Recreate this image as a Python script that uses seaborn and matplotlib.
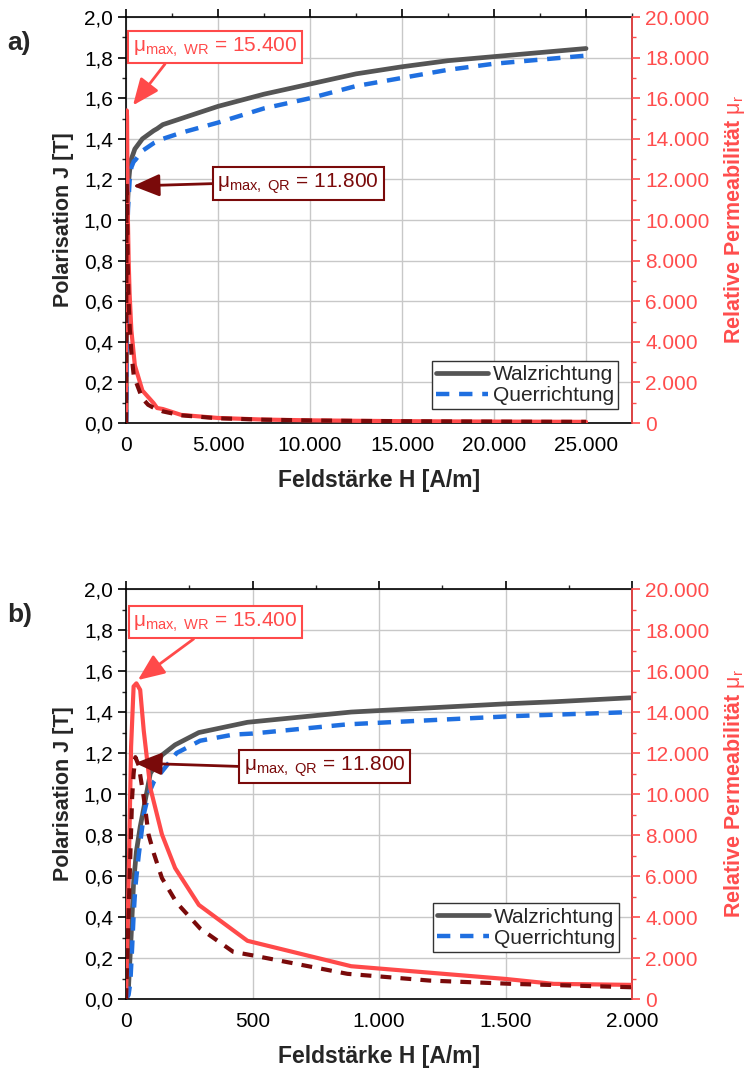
import numpy as np
import pandas as pd
import matplotlib
matplotlib.use("Agg")
import matplotlib.pyplot as plt
from matplotlib.ticker import MultipleLocator, FuncFormatter
import seaborn as sns

# ---------------- data ----------------
H_wr = [0, 10, 20, 30, 41, 56, 70, 96, 142, 194, 288, 480, 890, 1500, 1690, 2000,
        3000, 5000, 7500, 10000, 12500, 15000, 17500, 20000, 22500, 25000]
J_wr = [0, 0.06, 0.30, 0.57, 0.72, 0.84, 0.93, 1.10, 1.19, 1.24, 1.30, 1.35, 1.40, 1.44, 1.45, 1.47,
        1.50, 1.56, 1.62, 1.67, 1.72, 1.755, 1.785, 1.805, 1.825, 1.845]
mu_wr = [0, 5700, 12300, 15250, 15400, 15080, 13100, 10300, 8030, 6390, 4590, 2840, 1600, 980, 740, 690,
         400, 250, 170, 133, 110, 93, 81, 72, 65, 59]

H_qr = [0, 10, 17, 24, 30, 37, 50, 70, 89, 110, 142, 200, 293, 424, 500, 875, 1200, 1526, 2000,
        3000, 5000, 7500, 10000, 12500, 15000, 17500, 20000, 22500, 25000]
J_qr = [0, 0.02, 0.08, 0.25, 0.41, 0.55, 0.70, 0.90, 1.00, 1.06, 1.11, 1.20, 1.26, 1.29, 1.295, 1.34, 1.36, 1.38, 1.40,
        1.43, 1.48, 1.55, 1.60, 1.66, 1.70, 1.74, 1.77, 1.79, 1.81]
mu_qr = [0, 4100, 7000, 9800, 11000, 11800, 11400, 9840, 8030, 7100, 5900, 4700, 3440, 2300, 2130, 1230, 900, 740, 574,
         380, 235, 165, 127, 106, 90, 79, 70, 63, 58]

series_labels = ["Walzrichtung", "Querrichtung"]
panel_labels = ["a)", "b)"]
x_limits = [27500, 2000]
x_major = [5000, 500]
x_minor = [2500, 250]
mu_max_wr_text = "15.400"
mu_max_qr_text = "11.800"

# ---------------- style ----------------
sns.set_style("white")
plt.rcParams["font.family"] = ["Liberation Sans", "DejaVu Sans"]
plt.rcParams["mathtext.fontset"] = "custom"
plt.rcParams["mathtext.rm"] = "Liberation Sans"
plt.rcParams["mathtext.it"] = "Liberation Sans:italic"
plt.rcParams["mathtext.bf"] = "Liberation Sans:bold"

C_WR = "#555555"
C_QR = "#1f6fe0"
C_MU_WR = "#ff4a4a"
C_MU_QR = "#7a0a0a"
C_RED_AX = "#ff4d4d"

FS_TICK = 15
FS_LAB = 15.5
FS_XLAB = 16.5

df_wr = pd.DataFrame({"H": H_wr, "J": J_wr, "mu": mu_wr})
df_qr = pd.DataFrame({"H": H_qr, "J": J_qr, "mu": mu_qr})

fig = plt.figure(figsize=(7.47, 10.71), dpi=100)
ax_pos = [[0.1687, 0.6050, 0.6774, 0.3791],
          [0.1687, 0.0672, 0.6774, 0.3828]]

# annotation placement per panel: (text center frac, arrow tip data, relpos)
ann_wr = [((0.176, 0.926), (380, 15650), (0.22, 0.0)),
          ((0.177, 0.9195), (47, 15560), (0.41, 0.0))]
ann_qr = [((0.34, 0.59), (380, 11675), (0.0, 0.5)),
          ((0.392, 0.567), (36, 11510), (0.0, 0.5))]
legend_anchor = [(0.972, 0.034), (0.974, 0.115)]

thou = FuncFormatter(lambda v, p: f"{int(round(v)):,}".replace(",", "."))
comma = FuncFormatter(lambda v, p: f"{v:.1f}".replace(".", ","))

for i in range(2):
    ax = fig.add_axes(ax_pos[i])
    sns.lineplot(data=df_wr, x="H", y="J", ax=ax, color=C_WR, lw=3.4,
                 sort=False, estimator=None, label=series_labels[0])
    sns.lineplot(data=df_qr, x="H", y="J", ax=ax, color=C_QR, lw=3.2,
                 sort=False, estimator=None, label=series_labels[1])
    lines = ax.get_lines()
    lines[1].set_dashes([3.0, 2.2])

    ax.set_xlim(0, x_limits[i])
    ax.set_ylim(0, 2.0)
    ax.xaxis.set_major_locator(MultipleLocator(x_major[i]))
    ax.xaxis.set_minor_locator(MultipleLocator(x_minor[i]))
    ax.yaxis.set_major_locator(MultipleLocator(0.2))
    ax.yaxis.set_minor_locator(MultipleLocator(0.1))
    ax.xaxis.set_major_formatter(thou)
    ax.yaxis.set_major_formatter(comma)
    ax.grid(True, which="major", color="#c8c8c8", lw=1.0)
    ax.set_axisbelow(True)
    ax.tick_params(axis="both", which="major", direction="out", length=5.5, width=1.2,
                   labelsize=FS_TICK, colors="black", pad=4)
    ax.tick_params(axis="both", which="minor", direction="out", length=3, width=1.0)
    ax.tick_params(axis="x", which="both", top=True, labeltop=False)
    ax.tick_params(axis="y", which="both", left=True, right=False)
    for s in ax.spines.values():
        s.set_visible(True)
        s.set_color("black")
        s.set_linewidth(1.2)
    ax.set_xlabel("Feldstärke H [A/m]", fontsize=FS_XLAB, fontweight="bold", labelpad=10)
    ax.set_ylabel("Polarisation J [T]", fontsize=FS_LAB, fontweight="bold", labelpad=7)

    handles = ax.get_lines()[:2]
    leg = ax.legend(handles, series_labels, loc="lower right",
                    bbox_to_anchor=legend_anchor[i], fontsize=FS_TICK, frameon=True,
                    fancybox=False, edgecolor="#333333", framealpha=1,
                    handlelength=2.5, handletextpad=0.2, borderpad=0.2,
                    labelspacing=0.1, borderaxespad=0)
    leg.get_frame().set_linewidth(1.0)

    ax2 = ax.twinx()
    sns.lineplot(data=df_wr, x="H", y="mu", ax=ax2, color=C_MU_WR, lw=3.0,
                 sort=False, estimator=None, legend=False)
    sns.lineplot(data=df_qr, x="H", y="mu", ax=ax2, color=C_MU_QR, lw=3.0,
                 sort=False, estimator=None, legend=False)
    l2 = ax2.get_lines()
    l2[1].set_dashes([2.6, 2.2])
    ax2.set_ylim(0, 20000)
    ax2.set_xlim(0, x_limits[i])
    ax2.yaxis.set_major_locator(MultipleLocator(2000))
    ax2.yaxis.set_minor_locator(MultipleLocator(1000))
    ax2.yaxis.set_major_formatter(thou)
    ax2.tick_params(axis="y", which="major", direction="out", length=5.5, width=1.2,
                    labelsize=FS_TICK, colors=C_RED_AX, pad=4)
    ax2.tick_params(axis="y", which="minor", direction="out", length=3, width=1.0,
                    colors=C_RED_AX)
    ax2.spines["right"].set_color(C_RED_AX)
    ax2.spines["right"].set_linewidth(1.2)
    for k in ["left", "top", "bottom"]:
        ax2.spines[k].set_visible(False)
    ax2.set_xlabel("")
    ax2.set_ylabel("Relative Permeabilität $\\mathrm{μ}_\\mathrm{r}$", fontsize=FS_LAB,
                   fontweight="bold", color=C_RED_AX, labelpad=9)
    ax2.grid(False)

    # annotations
    (tx, ty), xy, rp = ann_wr[i]
    ax2.annotate("μ$_\\mathrm{max,\\ WR}$ = " + mu_max_wr_text, xy=xy, xycoords="data",
                 xytext=(tx, ty), textcoords="axes fraction", ha="center", va="center",
                 fontsize=15, color=C_MU_WR,
                 bbox=dict(boxstyle="square,pad=0.22", fc="white", ec=C_MU_WR, lw=1.5),
                 arrowprops=dict(arrowstyle="-|>,head_length=0.9,head_width=0.38",
                                 color=C_MU_WR, lw=2.0, relpos=rp, shrinkA=0, shrinkB=0,
                                 mutation_scale=18))
    (tx, ty), xy, rp = ann_qr[i]
    ax2.annotate("μ$_\\mathrm{max,\\ QR}$ = " + mu_max_qr_text, xy=xy, xycoords="data",
                 xytext=(tx, ty), textcoords="axes fraction", ha="center", va="center",
                 fontsize=15, color=C_MU_QR,
                 bbox=dict(boxstyle="square,pad=0.22", fc="white", ec=C_MU_QR, lw=1.5),
                 arrowprops=dict(arrowstyle="-|>,head_length=0.9,head_width=0.38",
                                 color=C_MU_QR, lw=2.0, relpos=rp, shrinkA=0, shrinkB=0,
                                 mutation_scale=18))

    fig.text(0.010, ax_pos[i][1] + ax_pos[i][3] - 0.024, panel_labels[i],
             fontsize=19, fontweight="bold", ha="left", va="center")

fig.savefig("out.png", dpi=100)
